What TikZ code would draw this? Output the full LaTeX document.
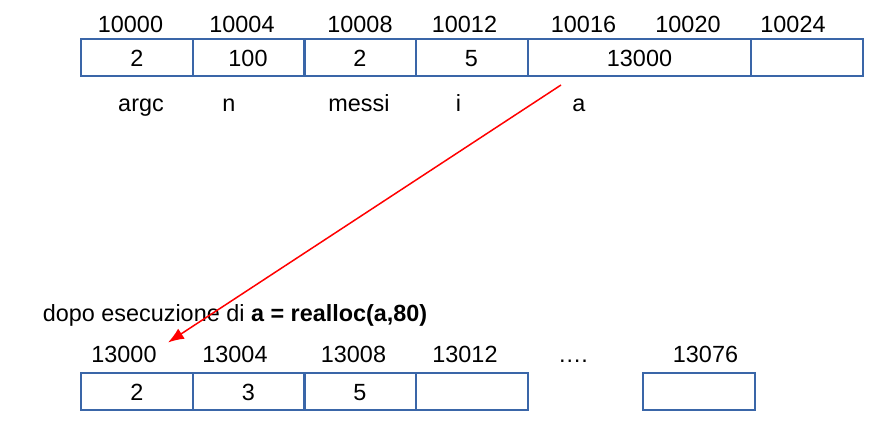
\documentclass[tikz,border=0pt]{standalone}
\usepackage{fontspec}
\setmainfont{Liberation Sans}
\usetikzlibrary{arrows.meta}
\definecolor{cellblue}{RGB}{58,102,168}
\tikzset{
    cell/.style={draw=cellblue, line width=1pt, minimum width=56pt, minimum height=18.25pt, inner sep=0pt},
    lbl/.style={inner sep=0pt, anchor=base, font=\fontsize{11.7}{14}\selectfont}
}
\begin{document}
\begin{tikzpicture}[x=0.5pt, y=-0.5pt]
        \useasboundingbox (0,0) rectangle (884,428);
        %% top row
        \node[cell] (argc) at (137,57.25) {};
        \node[cell] (n) at (248.5,57.25) {};
        \node[cell] (messi) at (360,57.25) {};
        \node[cell] (i) at (472,57.25) {};
        \node[cell, minimum width=111.5pt] (a) at (639.5,57.25) {};
        \node[cell] (free) at (806.5,57.25) {};
        \node[lbl] (vargc) at (137,66) {2};
        \node[lbl] (vn) at (248,66) {100};
        \node[lbl] (vmessi) at (360,66) {2};
        \node[lbl] (vi) at (471.5,66) {5};
        \node[lbl] (va) at (639.5,66) {13000};
        %% addresses
        \node[lbl] (t0) at (130.5,32.3) {10000};
        \node[lbl] (t4) at (242,32.3) {10004};
        \node[lbl] (t8) at (360,32.3) {10008};
        \node[lbl] (t12) at (464.5,32.3) {10012};
        \node[lbl] (t16) at (583.5,32.3) {10016};
        \node[lbl] (t20) at (688,32.3) {10020};
        \node[lbl] (t24) at (793,32.3) {10024};
        %% variable names
        \node[lbl] (nargc) at (141,111.5) {argc};
        \node[lbl] (nn) at (229,111.5) {n};
        \node[lbl] (nmessi) at (359,111.5) {messi};
        \node[lbl] (ni) at (458.5,111.5) {i};
        \node[lbl] (na) at (579,111.5) {a};
        %% caption
        \node[lbl, anchor=base west] (caption) at (42.5,321.7)
            {dopo esecuzione di \textbf{a = realloc(a,80)}};
        %% bottom row
        \node[cell] (h0) at (137,391.5) {};
        \node[cell] (h4) at (248.5,391.5) {};
        \node[cell] (h8) at (360,391.5) {};
        \node[cell] (h12) at (472,391.5) {};
        \node[cell] (h76) at (698.5,391.5) {};
        \node[lbl] (v0) at (137,400) {2};
        \node[lbl] (v4) at (248.5,400) {3};
        \node[lbl] (v8) at (360,400) {5};
        \node[lbl] (b0) at (124,362.7) {13000};
        \node[lbl] (b4) at (235,362.7) {13004};
        \node[lbl] (b8) at (353.5,362.7) {13008};
        \node[lbl] (b12) at (465,362.7) {13012};
        \node[lbl] (dots) at (573,362.7) {….};
        \node[lbl] (b76) at (705.5,362.7) {13076};
        %% pointer
        \coordinate (ptr) at (561,85);
        \coordinate (target) at (168,342.5);
        \draw[red, line width=0.75pt, -{Latex[length=8pt,width=6pt]}] (ptr) -- (target);
    \end{tikzpicture}
\end{document}
